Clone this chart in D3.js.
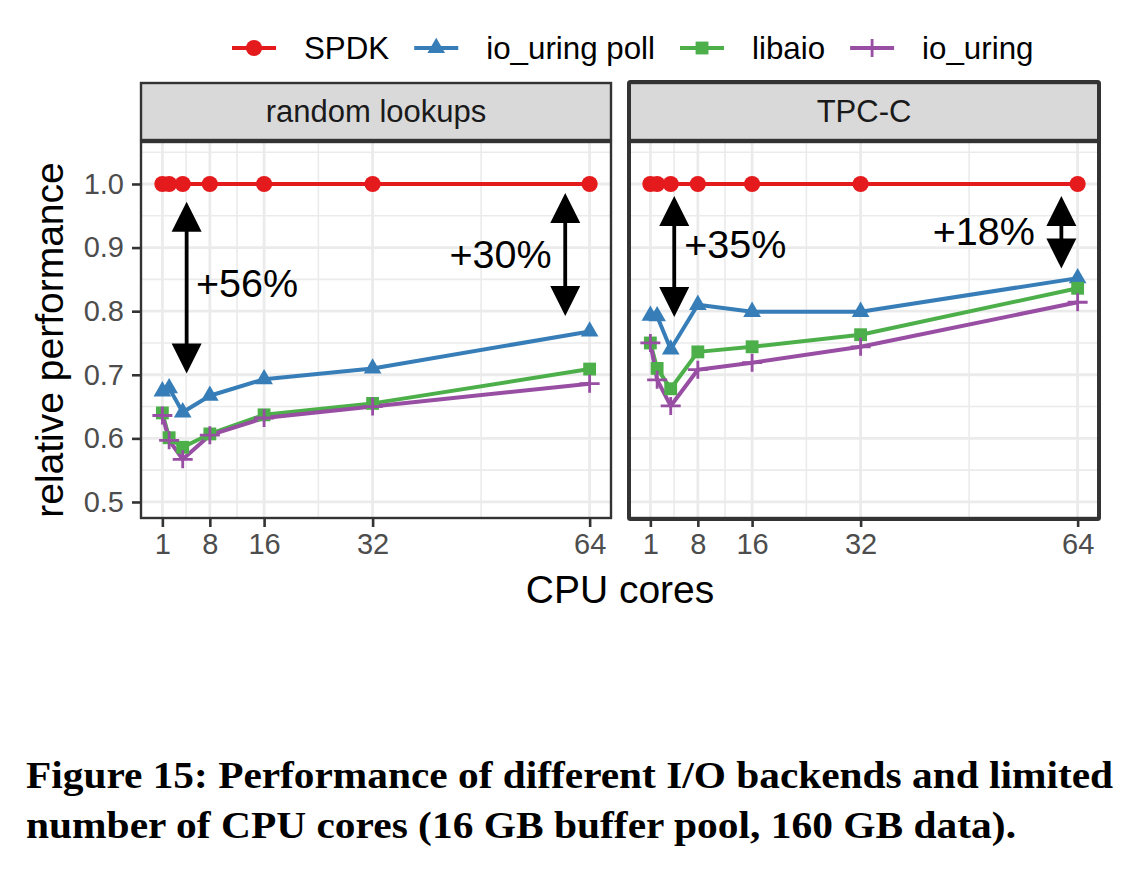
<!DOCTYPE html>
<html><head><meta charset="utf-8">
<script src="https://cdn.jsdelivr.net/npm/d3@7"></script>
<style>body{margin:0;background:#fff}svg{display:block}</style>
</head><body><svg id="c" width="1148" height="871"></svg>
<script>
// ---------- data ----------
const cores = [1, 2, 4, 8, 16, 32, 64];
const facetNames = ["random lookups", "TPC-C"];
const seriesNames = ["SPDK", "io_uring poll", "libaio", "io_uring"];
const seriesColors = ["#E41A1C", "#377EB8", "#4DAF4A", "#984EA3"];
const seriesShapes = ["circle", "triangle", "square", "plus"];

const spdkRandom   = [1.0, 1.0, 1.0, 1.0, 1.0, 1.0, 1.0];
const pollRandom   = [0.674, 0.679, 0.641, 0.667, 0.693, 0.710, 0.768];
const libaioRandom = [0.640, 0.601, 0.586, 0.607, 0.637, 0.655, 0.709];
const uringRandom  = [0.636, 0.597, 0.567, 0.605, 0.632, 0.650, 0.686];

const spdkTpcc   = [1.0, 1.0, 1.0, 1.0, 1.0, 1.0, 1.0];
const pollTpcc   = [0.793, 0.792, 0.740, 0.810, 0.799, 0.799, 0.852];
const libaioTpcc = [0.750, 0.710, 0.678, 0.736, 0.744, 0.763, 0.836];
const uringTpcc  = [0.750, 0.692, 0.651, 0.708, 0.719, 0.744, 0.814];

const xTicks = [1, 8, 16, 32, 64];
const xMinor = [4.5, 12, 24, 48];
const yTicks = [0.5, 0.6, 0.7, 0.8, 0.9, 1.0];
const yMinor = [0.55, 0.65, 0.75, 0.85, 0.95, 1.05];
const yTickLabels = ["0.5", "0.6", "0.7", "0.8", "0.9", "1.0"];

// annotations (data coordinates)
const arrowFacet  = [0, 0, 1, 1];
const arrowX      = [4.58, 60.4, 4.52, 61.6];
const arrowTop    = [0.972, 0.986, 0.981, 0.981];
const arrowBottom = [0.702, 0.7925, 0.791, 0.867];
const labelText   = ["+56%", "+30%", "+35%", "+18%"];
const labelX      = [5.95, 58.4, 6.0, 57.7];
const labelY      = [0.8223, 0.8675, 0.883, 0.904];
const labelAnchor = ["start", "end", "start", "end"];

const xTitle = "CPU cores";
const yTitle = "relative performance";
const captionLines = [
  "Figure 15: Performance of different I/O backends and limited",
  "number of CPU cores (16 GB buffer pool, 160 GB data)."
];

const facetData = [
  [spdkRandom, pollRandom, libaioRandom, uringRandom],
  [spdkTpcc, pollTpcc, libaioTpcc, uringTpcc]
];

// ---------- layout ----------
const svg = d3.select("#c");
const FONT = "'Liberation Sans', Arial, Helvetica, sans-serif";
const panelX = [[141, 611], [629, 1099]];
const panelTop = 142, panelBottom = 518;
const stripTop = 83, stripBottom = 140;

const y = d3.scaleLinear().domain([0.4748, 1.066]).range([panelBottom, panelTop]);

function symbolPath(shape) {
  if (shape === "circle") return d3.symbol(d3.symbolCircle, 205)();
  if (shape === "triangle") return d3.symbol(d3.symbolTriangle, 135)();
  if (shape === "square") return d3.symbol(d3.symbolSquare, 165)();
  return "M-10,0H10M0,-9V9";
}
function drawMarker(g, shape, color, cx, cy) {
  const p = g.append("path").attr("d", symbolPath(shape))
    .attr("transform", `translate(${cx},${cy})`);
  if (shape === "plus") p.attr("fill", "none").attr("stroke", color).attr("stroke-width", 2.8);
  else p.attr("fill", color);
}

facetNames.forEach((name, fi) => {
  const [x0, x1] = panelX[fi];
  const x = d3.scaleLinear().domain([-2.15, 67.15]).range([x0, x1]);
  const g = svg.append("g");

  // panel background + grid
  g.append("rect").attr("x", x0).attr("y", panelTop).attr("width", x1 - x0)
    .attr("height", panelBottom - panelTop).attr("fill", "#fff");
  const grid = g.append("g").attr("stroke", "#ebebeb");
  yMinor.forEach(v => grid.append("line").attr("x1", x0).attr("x2", x1)
    .attr("y1", y(v)).attr("y2", y(v)).attr("stroke-width", 1.6));
  xMinor.forEach(v => grid.append("line").attr("y1", panelTop).attr("y2", panelBottom)
    .attr("x1", x(v)).attr("x2", x(v)).attr("stroke-width", 1.6));
  yTicks.forEach(v => grid.append("line").attr("x1", x0).attr("x2", x1)
    .attr("y1", y(v)).attr("y2", y(v)).attr("stroke-width", 2.8));
  xTicks.forEach(v => grid.append("line").attr("y1", panelTop).attr("y2", panelBottom)
    .attr("x1", x(v)).attr("x2", x(v)).attr("stroke-width", 2.8));

  // lines
  const series = facetData[fi];
  const line = d3.line().x((d, i) => x(cores[i])).y(d => y(d));
  series.forEach((vals, si) => {
    g.append("path").datum(vals).attr("d", line).attr("fill", "none")
      .attr("stroke", seriesColors[si]).attr("stroke-width", 4)
      .attr("stroke-linejoin", "round");
  });
  // points
  series.forEach((vals, si) => {
    vals.forEach((v, i) => drawMarker(g, seriesShapes[si], seriesColors[si], x(cores[i]), y(v)));
  });

  // annotations
  arrowFacet.forEach((f, ai) => {
    if (f !== fi) return;
    const ax = x(arrowX[ai]), yt = y(arrowTop[ai]), yb = y(arrowBottom[ai]);
    const hw = 15, hh = 30;
    g.append("line").attr("x1", ax).attr("x2", ax).attr("y1", yt + hh - 2).attr("y2", yb - hh + 2)
      .attr("stroke", "#000").attr("stroke-width", 3.8);
    g.append("path").attr("d", `M${ax},${yt}L${ax - hw},${yt + hh}L${ax + hw},${yt + hh}Z`).attr("fill", "#000");
    g.append("path").attr("d", `M${ax},${yb}L${ax - hw},${yb - hh}L${ax + hw},${yb - hh}Z`).attr("fill", "#000");
    g.append("text").attr("x", x(labelX[ai])).attr("y", y(labelY[ai]))
      .attr("text-anchor", labelAnchor[ai]).attr("font-family", FONT)
      .attr("font-size", 39.5).attr("fill", "#000").text(labelText[ai]);
  });

  // panel border
  g.append("rect").attr("x", x0).attr("y", panelTop).attr("width", x1 - x0)
    .attr("height", panelBottom - panelTop).attr("fill", "none")
    .attr("stroke", "#333").attr("stroke-width", 2.4);

  // strip
  g.append("rect").attr("x", x0).attr("y", stripTop).attr("width", x1 - x0)
    .attr("height", stripBottom - stripTop).attr("fill", "#d9d9d9")
    .attr("stroke", "#333").attr("stroke-width", 2.4);
  g.append("text").attr("x", (x0 + x1) / 2).attr("y", 122).attr("text-anchor", "middle")
    .attr("font-family", FONT).attr("font-size", 31).attr("fill", "#1a1a1a").text(name);

  // x axis
  const xa = g.append("g").attr("transform", `translate(0,${panelBottom})`)
    .call(d3.axisBottom(x).tickValues(xTicks).tickSize(9).tickPadding(6).tickSizeOuter(0));
  xa.select(".domain").remove();
  xa.selectAll(".tick line").attr("stroke", "#333").attr("stroke-width", 2.6);
  xa.selectAll(".tick text").attr("font-family", FONT).attr("font-size", 29).attr("fill", "#4d4d4d")
    .attr("dy", "0.71em");

  if (fi === 0) {
    const ya = g.append("g").attr("transform", `translate(${x0},0)`)
      .call(d3.axisLeft(y).tickValues(yTicks).tickFormat((d, i) => yTickLabels[i])
        .tickSize(9).tickPadding(8).tickSizeOuter(0));
    ya.select(".domain").remove();
    ya.selectAll(".tick line").attr("stroke", "#333").attr("stroke-width", 2.6);
    ya.selectAll(".tick text").attr("font-family", FONT).attr("font-size", 29).attr("fill", "#4d4d4d");
  }
});

// highlight frame around TPC-C facet
svg.append("rect").attr("x", 629).attr("y", 82).attr("width", 470).attr("height", 437)
  .attr("fill", "none").attr("stroke", "#333").attr("stroke-width", 4).attr("rx", 1.5);

// axis titles
svg.append("text").attr("x", 620).attr("y", 603).attr("text-anchor", "middle")
  .attr("font-family", FONT).attr("font-size", 39).attr("fill", "#000").text(xTitle);
svg.append("text").attr("transform", "translate(63,340) rotate(-90)").attr("text-anchor", "middle")
  .attr("font-family", FONT).attr("font-size", 39).attr("fill", "#000").text(yTitle);

// legend
const legend = svg.append("g");
let lx = 232;
seriesNames.forEach((nm, si) => {
  legend.append("line").attr("x1", lx).attr("x2", lx + 44).attr("y1", 48).attr("y2", 48)
    .attr("stroke", seriesColors[si]).attr("stroke-width", 4);
  drawMarker(legend, seriesShapes[si], seriesColors[si], lx + 22, 48);
  const t = legend.append("text").attr("x", lx + 72).attr("y", 59)
    .attr("font-family", FONT).attr("font-size", 31.3).attr("fill", "#000").text(nm);
  lx = lx + 72 + t.node().getComputedTextLength() + 25;
});

// caption
const capWidths = [1087, 990];
const capY = [788, 838];
captionLines.forEach((s, i) => {
  svg.append("text").attr("x", 26).attr("y", capY[i])
    .attr("font-family", "'Liberation Serif', 'DejaVu Serif', serif").attr("font-weight", "bold")
    .attr("font-size", 38.5).attr("fill", "#000")
    .attr("textLength", capWidths[i]).attr("lengthAdjust", "spacingAndGlyphs").text(s);
});
</script></body></html>
